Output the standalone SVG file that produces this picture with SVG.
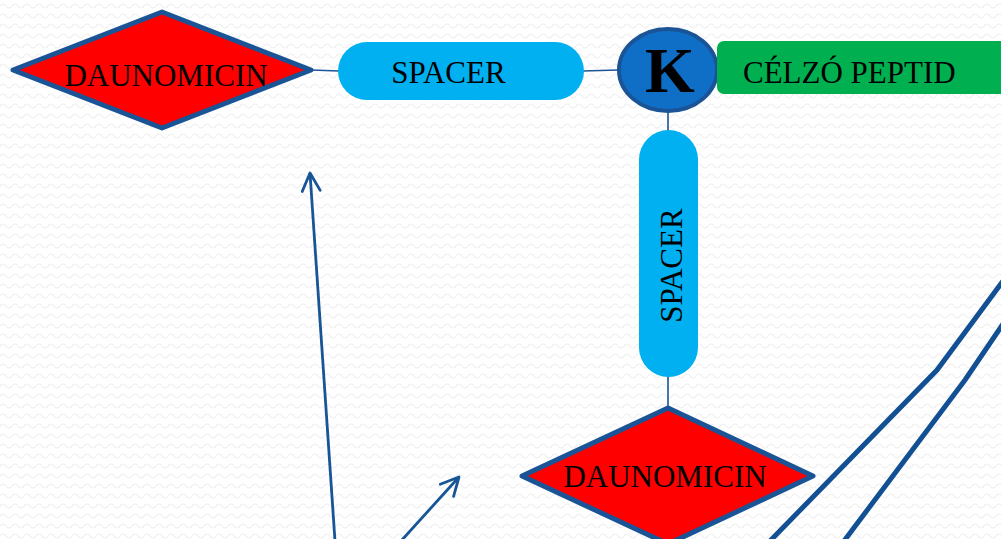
<svg xmlns="http://www.w3.org/2000/svg" width="1001" height="539" viewBox="0 0 1001 539">
<defs>
<pattern id="bg" width="12" height="10" patternUnits="userSpaceOnUse">
<rect width="12" height="10" fill="#ffffff"/>
<path d="M0 6 Q3 2 6 6 T12 6" fill="none" stroke="#efefef" stroke-width="1.2"/>
</pattern>
<marker id="chev" viewBox="-22 -12 26 24" refX="0" refY="0" markerWidth="26" markerHeight="24" markerUnits="userSpaceOnUse" orient="auto">
<path d="M-18 -9 L0 0 L-18 9" fill="none" stroke="#175596" stroke-width="2.8" stroke-linecap="round" stroke-linejoin="round"/>
</marker>
<style>
.dia{fill:#ff0000;stroke:#1a5496;stroke-width:5;stroke-linejoin:round}
.sp{fill:#00b0f0}
.t{font-family:"Liberation Serif","Times New Roman",serif;font-size:31px;fill:#000}
.c{fill:none;stroke:#1a5496;stroke-width:1.6}
.arr{fill:none;stroke:#175596;stroke-width:2.8}
.thick{fill:none;stroke:#135093;stroke-width:5}
</style>
</defs>
<rect width="1001" height="539" fill="url(#bg)"/>
<g id="connectors">
<line class="c" x1="311" y1="70" x2="339" y2="71"/>
<line class="c" x1="583" y1="71" x2="618" y2="70"/>
<line class="c" x1="668" y1="112" x2="668" y2="131"/>
<line class="c" x1="668" y1="376" x2="668" y2="409"/>
</g>
<g id="daunomicin1">
<polygon class="dia" points="13,70 162,12 311,70 162,128"/>
<text class="t" x="166" y="86" text-anchor="middle">DAUNOMICIN</text>
</g>
<g id="spacer1">
<rect class="sp" x="338" y="42" width="246" height="58" rx="29"/>
<text class="t" x="448.5" y="83" text-anchor="middle">SPACER</text>
</g>
<g id="k">
<ellipse cx="668" cy="70" rx="49" ry="41" fill="#0f6fc6" stroke="#1a5496" stroke-width="4"/>
<text x="670" y="92" text-anchor="middle" font-family="Liberation Serif, Times New Roman, serif" font-weight="bold" font-size="64" fill="#000">K</text>
</g>
<g id="celzo">
<rect x="717" y="41" width="290" height="53" rx="7" fill="#00b050"/>
<text class="t" x="743" y="83">CÉLZÓ PEPTID</text>
</g>
<g id="spacer2">
<rect class="sp" x="639" y="130" width="59" height="247" rx="29.5"/>
<text class="t" transform="translate(682 265.5) rotate(-90)" text-anchor="middle">SPACER</text>
</g>
<g id="daunomicin2">
<polygon class="dia" points="522,476 668,408 813,476 668,544"/>
<text class="t" x="665" y="487" text-anchor="middle">DAUNOMICIN</text>
</g>
<g id="arrows">
<line class="arr" x1="335" y1="541" x2="310" y2="173" marker-end="url(#chev)"/>
<line class="arr" x1="401" y1="541" x2="459" y2="477" marker-end="url(#chev)"/>
<polyline class="thick" points="1003,281 937,370 770,541"/>
<polyline class="thick" points="1003,324 965,380 844,541"/>
</g>
</svg>
